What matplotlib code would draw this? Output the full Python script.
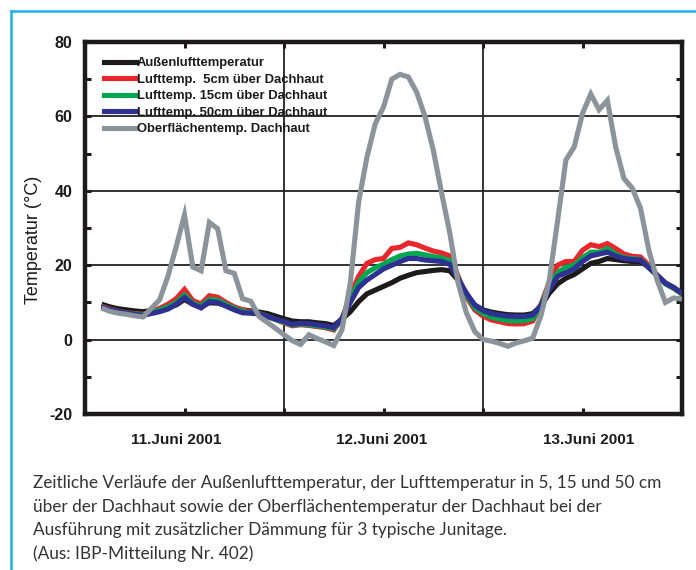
import matplotlib
matplotlib.use("Agg")
import matplotlib.pyplot as plt
from matplotlib.lines import Line2D

plt.rcParams['font.family'] = ['Liberation Sans', 'DejaVu Sans']
plt.rcParams['axes.unicode_minus'] = False

# hourly readings, 11.-13. Juni 2001 (hour 0 = 11.06. 0:00)
hours = list(range(2, 73))

aussen = [9.5, 8.8, 8.3, 8.0, 7.7, 7.5, 7.8, 8.2, 8.6, 9.3, 10.8, 9.5, 8.8, 9.9, 9.8,
          9.2, 8.5, 8.0, 7.7, 7.4, 7.0, 6.3, 5.6, 5.0, 4.8, 4.8, 4.5, 4.3, 3.8, 5.5,
          7.5, 10.2, 12.3, 13.3, 14.3, 15.3, 16.5, 17.3, 18.0, 18.3, 18.6, 18.8, 18.5,
          16.0, 12.0, 9.3, 8.0, 7.4, 7.0, 6.7, 6.6, 6.6, 7.0, 9.0, 12.5, 15.0, 16.5,
          17.5, 19.0, 20.5, 21.0, 21.8, 21.5, 21.2, 21.0, 21.0, 19.5, 17.3, 15.2, 14.0, 12.3]

luft_5cm = [9.0, 8.2, 7.6, 7.2, 7.0, 6.8, 7.5, 8.4, 9.5, 11.0, 13.5, 10.5, 9.6, 11.8, 11.4,
            10.0, 8.8, 8.0, 7.4, 7.0, 6.2, 5.4, 4.5, 3.7, 4.0, 3.8, 3.5, 3.2, 2.6, 5.6,
            12.0, 17.0, 20.5, 21.5, 21.8, 24.5, 24.8, 26.0, 25.5, 24.6, 23.8, 23.3, 22.5,
            17.0, 11.5, 8.0, 6.3, 5.3, 4.8, 4.3, 4.2, 4.3, 5.0, 9.5, 15.5, 20.0, 21.0,
            21.0, 24.0, 25.5, 25.0, 25.8, 24.5, 23.0, 22.4, 22.2, 20.0, 17.3, 15.0, 13.8, 12.3]

luft_15cm = [8.8, 8.0, 7.5, 7.1, 6.9, 6.7, 7.2, 8.0, 8.8, 10.0, 12.0, 9.8, 9.0, 10.8, 10.6,
             9.5, 8.4, 7.6, 7.2, 7.0, 6.2, 5.4, 4.7, 3.9, 4.2, 4.0, 3.7, 3.4, 2.9, 5.6,
             11.0, 15.5, 18.0, 19.3, 20.3, 21.5, 22.5, 23.0, 23.2, 22.8, 22.3, 22.0, 21.2,
             16.5, 12.0, 8.6, 7.0, 6.0, 5.5, 5.1, 5.0, 5.1, 5.6, 9.3, 14.5, 18.0, 19.5,
             20.0, 22.0, 23.5, 23.5, 24.5, 23.0, 22.0, 21.8, 21.5, 19.5, 17.3, 15.0, 13.8, 12.3]

luft_50cm = [8.8, 8.0, 7.5, 7.1, 6.8, 6.5, 7.0, 7.5, 8.2, 9.5, 11.3, 9.5, 8.5, 10.2, 10.0,
             9.0, 8.0, 7.2, 7.1, 6.9, 6.2, 5.5, 4.9, 4.1, 4.4, 4.3, 4.0, 3.7, 3.2, 5.7,
             10.0, 14.0, 16.0, 17.5, 19.0, 20.0, 21.0, 21.8, 21.8, 21.4, 21.2, 21.0, 20.2,
             16.3, 12.5, 9.3, 7.8, 7.0, 6.6, 6.3, 6.2, 6.2, 6.6, 9.2, 13.5, 17.0, 18.0,
             19.0, 21.0, 22.5, 23.0, 23.5, 22.5, 21.8, 21.5, 21.4, 19.3, 17.3, 15.2, 14.0, 12.5]

dachhaut = [8.5, 7.6, 7.1, 6.8, 6.4, 6.1, 8.4, 10.7, 17.0, 25.0, 33.5, 19.5, 18.5, 31.5, 29.8,
            18.5, 17.8, 11.0, 10.3, 6.2, 4.6, 3.0, 1.3, -0.3, -1.3, 1.3, 0.3, -0.6, -1.6, 2.7,
            15.2, 37.0, 49.0, 58.0, 62.5, 70.0, 71.3, 70.6, 66.5, 60.0, 51.0, 39.5, 28.6,
            15.2, 7.2, 2.2, 0.0, -0.4, -1.0, -1.8, -0.9, -0.3, 0.4, 6.5, 16.0, 32.0, 48.3,
            51.8, 60.8, 66.0, 61.8, 64.3, 51.8, 43.3, 40.7, 35.3, 24.0, 16.0, 10.0, 11.2, 10.9]

labels = ['Außenlufttemperatur',
          'Lufttemp.  5cm über Dachhaut',
          'Lufttemp. 15cm über Dachhaut',
          'Lufttemp. 50cm über Dachhaut',
          'Oberflächentemp. Dachhaut']
colors = ['#1c1a1a', '#e8262b', '#00a651', '#2e3192', '#8b949a']
day_labels = ['11.Juni 2001', '12.Juni 2001', '13.Juni 2001']
day_label_pos = [11.0, 35.8, 60.7]   # labels sit a little off the noon ticks

fig = plt.figure(figsize=(6.96, 5.70), dpi=100)
ax = fig.add_axes([85/696, 1 - 414/570, 597/696, 372/570])

series = [aussen, luft_5cm, luft_15cm, luft_50cm, dachhaut]
for i, (vals, col) in enumerate(zip(series, colors)):
    ax.plot(hours, vals, color=col, lw=3.7, solid_joinstyle='miter',
            solid_capstyle='butt', zorder=3 + i)

ax.set_xlim(0, 72)
ax.set_ylim(-20, 80)

# grid lines at the day borders and every 20 degrees
for d in [24, 48]:
    ax.axvline(d, color='#222222', lw=1.3, zorder=1)
for t in [0, 20, 40, 60]:
    ax.axhline(t, color='#222222', lw=1.3, zorder=1)

ax.set_yticks(range(-20, 81, 20))
ax.set_yticks(range(-20, 81, 10), minor=True)
ax.set_xticks(day_label_pos)
ax.set_xticklabels(day_labels)
ax.set_xticks(range(0, 73, 12), minor=True)
ax.tick_params(which='both', direction='in', length=4, width=2.2, color='#1c1a1a',
               top=True, right=True)
ax.tick_params(axis='x', which='major', length=0)
ax.tick_params(axis='y', which='major', labelsize=11.5, pad=9)
ax.tick_params(axis='x', which='major', labelsize=11, pad=14)
for lab in ax.get_xticklabels() + ax.get_yticklabels():
    lab.set_fontweight('bold')
    lab.set_color('#1c1a1a')
for sp in ax.spines.values():
    sp.set_linewidth(3.2)
    sp.set_color('#1c1a1a')

fig.text(33/696, 1 - 240/570, 'Temperatur (°C)', rotation=90, ha='center',
         va='center', fontsize=13, color='#1c1a1a')

handles = [Line2D([], [], color=c, lw=3.7) for c in colors]
leg = ax.legend(handles, labels, loc='upper left', bbox_to_anchor=(0.018, 0.98),
                frameon=False, handlelength=2.45, handletextpad=0.12,
                labelspacing=0.33, borderaxespad=0.2,
                prop={'weight': 'bold', 'size': 9.4})
for t in leg.get_texts():
    t.set_color('#1c1a1a')

caption = ['Zeitliche Verläufe der Außenlufttemperatur, der Lufttemperatur in 5, 15 und 50 cm',
           'über der Dachhaut sowie der Oberflächentemperatur der Dachhaut bei der',
           'Ausführung mit zusätzlicher Dämmung für 3 typische Junitage.',
           '(Aus: IBP-Mitteilung Nr. 402)']
for i, line in enumerate(caption):
    fig.text(33/696, 1 - (483 + 23.7 * i)/570, line, ha='left', va='center',
             fontsize=12.4, color='#333333', family=['Lato', 'DejaVu Sans'])

# light blue frame (top and left only)
fig.add_artist(Line2D([11/696, 1], [1 - 11/570, 1 - 11/570], color='#1fb1ec', lw=1.8))
fig.add_artist(Line2D([11/696, 11/696], [0, 1 - 11/570], color='#1fb1ec', lw=1.8))

fig.savefig('out.png', dpi=100)
